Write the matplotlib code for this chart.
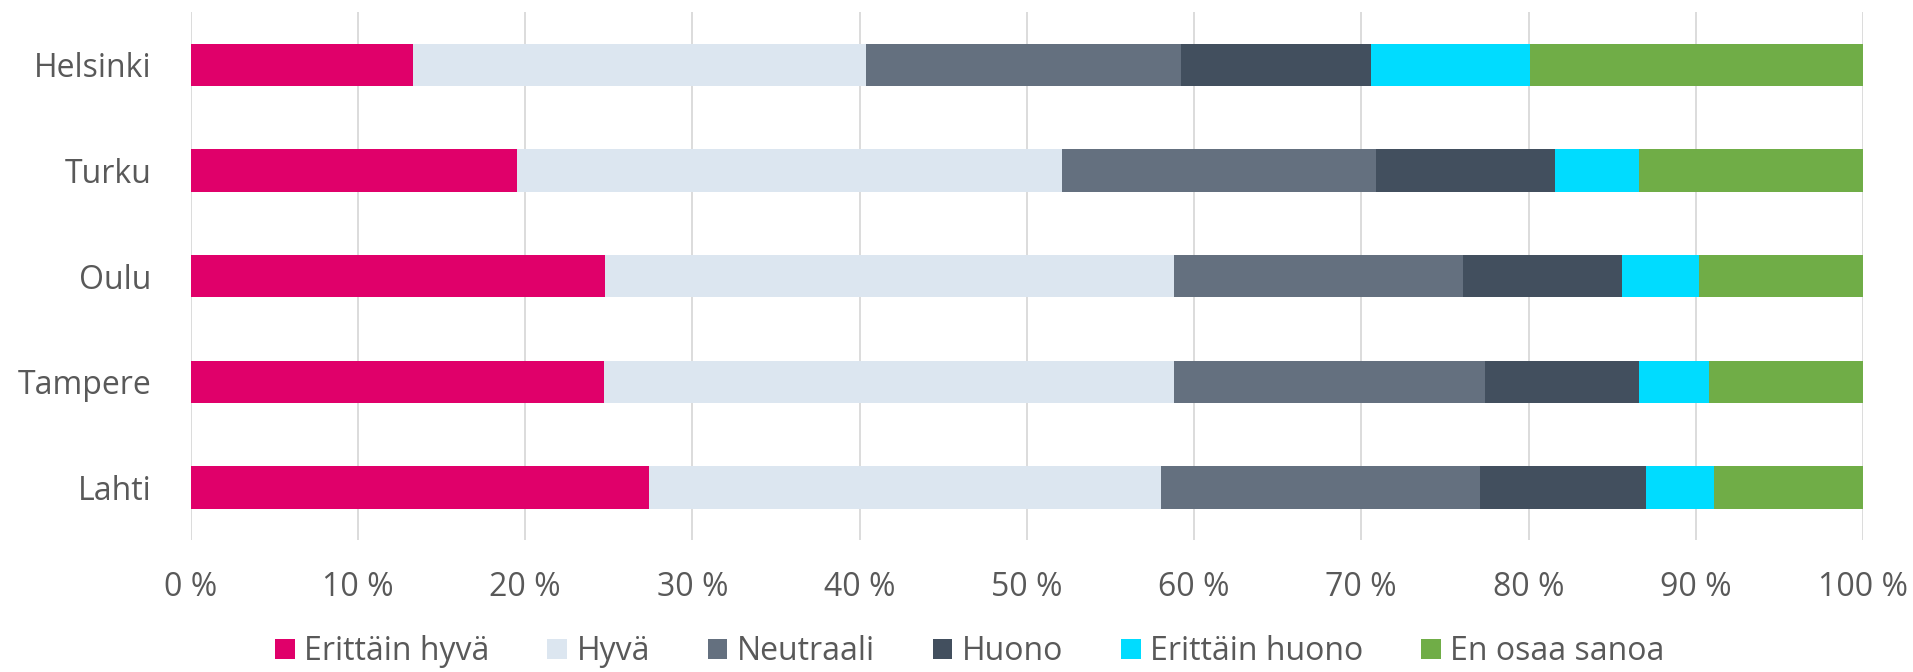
"""Stacked horizontal bar chart of city ratings."""
import matplotlib
matplotlib.use('Agg')
from matplotlib import pyplot as plt
import numpy as np

cities = ['Helsinki', 'Turku', 'Oulu', 'Tampere', 'Lahti']
categories = ['Erittäin hyvä', 'Hyvä', 'Neutraali', 'Huono',
              'Erittäin huono', 'En osaa sanoa']
colors = ['#E0006A', '#DCE6F0', '#64707F', '#424F5E', '#00DCFF', '#70AD47']

erittain_hyva = [13.3, 19.5, 24.8, 24.7, 27.4]
hyva = [27.1, 32.6, 34.0, 34.1, 30.6]
neutraali = [18.8, 18.8, 17.3, 18.6, 19.1]
huono = [11.4, 10.7, 9.5, 9.2, 9.9]
erittain_huono = [9.5, 5.0, 4.6, 4.2, 4.1]
en_osaa = [19.9, 13.4, 9.8, 9.2, 8.9]

x_ticks = list(range(0, 101, 10))
x_tick_labels = [f'{t} %' for t in x_ticks]

text_color = '#595959'
plt.rcParams['font.family'] = ['Open Sans', 'DejaVu Sans']

fig = plt.figure(figsize=(19.13, 6.72), dpi=100)
ax = fig.add_axes([0.0996, 0.196, 0.8743, 0.786])

series = [erittain_hyva, hyva, neutraali, huono, erittain_huono, en_osaa]
y = np.arange(len(cities))
left = np.zeros(len(cities))
for name, values, color in zip(categories, series, colors):
    values = np.array(values, dtype=float)
    ax.barh(y, values, left=left, height=0.4, color=color, label=name,
            zorder=3)
    left += values

ax.set_xlim(0, 100)
ax.set_ylim(len(cities) - 0.5, -0.5)
ax.set_yticks(y)
ax.set_yticklabels(cities)
ax.set_xticks(x_ticks)
ax.set_xticklabels(x_tick_labels)
ax.tick_params(axis='both', length=0, labelsize=23, colors=text_color)
ax.tick_params(axis='x', pad=22)
ax.tick_params(axis='y', pad=28)
ax.grid(axis='x', color='#D9D9D9', linewidth=1.3, zorder=0)
for spine in ax.spines.values():
    spine.set_visible(False)

fig.legend(loc='lower center', bbox_to_anchor=(0.507, -0.037), ncol=6,
           frameon=False, fontsize=23, labelcolor=text_color,
           handlelength=0.62, handleheight=0.62, handletextpad=0.3,
           columnspacing=1.8)

fig.savefig('out.png', dpi=100)
